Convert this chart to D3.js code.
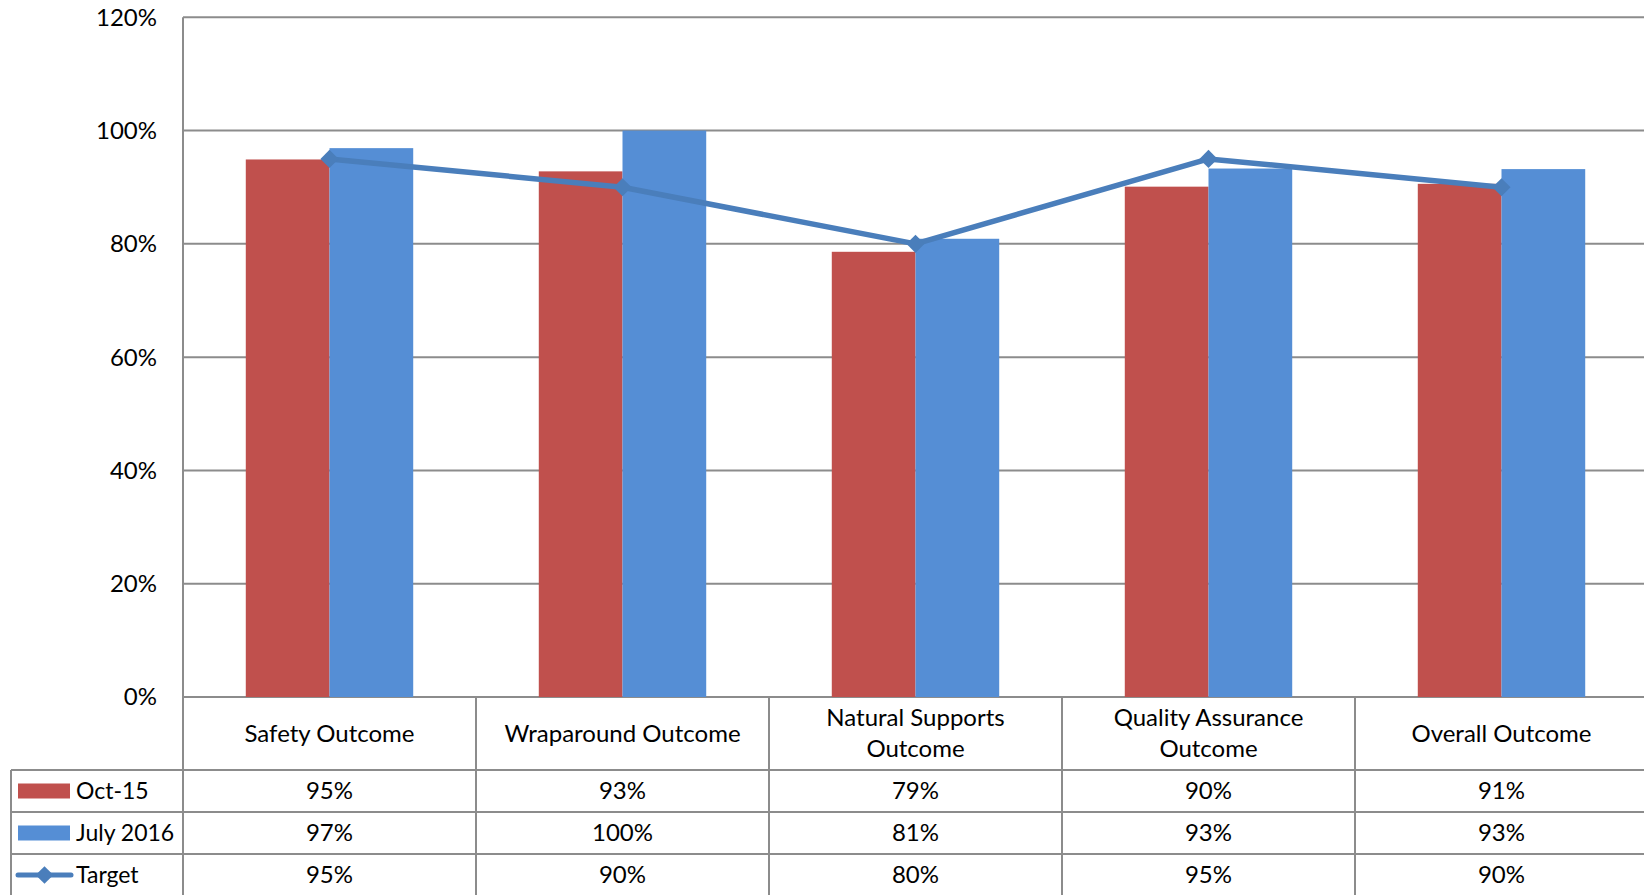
<!DOCTYPE html>
<html>
<head>
<meta charset="utf-8">
<script src="https://cdn.jsdelivr.net/npm/d3@7"></script>
<style>
  body { margin: 0; background: #fff; }
  text { font-family: Lato, "Open Sans", sans-serif; fill: #000; }
</style>
</head>
<body>
<svg id="chart" width="1644" height="895"></svg>
<script>
// chart data
const categories = [["Safety Outcome"], ["Wraparound Outcome"], ["Natural Supports", "Outcome"], ["Quality Assurance", "Outcome"], ["Overall Outcome"]];
const oct15 = [0.949, 0.928, 0.786, 0.901, 0.906];
const july2016 = [0.969, 1.0, 0.809, 0.933, 0.932];
const target = [0.95, 0.90, 0.80, 0.95, 0.90];
const yTicks = [0, 0.2, 0.4, 0.6, 0.8, 1.0, 1.2];

const seriesNames = ["Oct-15", "July 2016", "Target"];
const red = "#c0504d", blue = "#558ed5", lineBlue = "#4a7ebb", grid = "#8c8c8c";
const fontSize = "24px";

const svg = d3.select("#chart");
const plotLeft = 183, colW = 293, plotTop = 17.3, zero = 697;
const rowH = [73, 42, 42, 42];

const x = d3.scaleBand().domain(d3.range(categories.length)).range([plotLeft, plotLeft + colW * categories.length]).paddingInner(0).paddingOuter(0);
const y = d3.scaleLinear().domain([0, 1.2]).range([zero, plotTop]);
const fmt = d3.format(".0%");

// gridlines
svg.append("g").selectAll("line")
  .data(yTicks)
  .join("line")
  .attr("x1", plotLeft).attr("x2", 1644)
  .attr("y1", d => y(d)).attr("y2", d => y(d))
  .style("stroke", grid).style("stroke-width", 2);

// y labels
svg.append("g").selectAll("text")
  .data(yTicks)
  .join("text")
  .attr("x", 157).attr("y", d => y(d))
  .attr("dy", "0.35em")
  .attr("text-anchor", "end")
  .style("font-size", fontSize)
  .text(d => fmt(d));

// bars
const barW = colW / 3.5;
const bars = svg.append("g");
bars.selectAll("rect.oct")
  .data(oct15)
  .join("rect")
  .classed("oct", true)
  .attr("x", (d, i) => x(i) + colW / 2 - barW)
  .attr("width", barW)
  .attr("y", d => y(d))
  .attr("height", d => zero - y(d))
  .style("fill", red);
bars.selectAll("rect.july")
  .data(july2016)
  .join("rect")
  .classed("july", true)
  .attr("x", (d, i) => x(i) + colW / 2)
  .attr("width", barW)
  .attr("y", d => y(d))
  .attr("height", d => zero - y(d))
  .style("fill", blue);

// target line
const line = d3.line()
  .x((d, i) => x(i) + colW / 2)
  .y(d => y(d));
svg.append("path")
  .datum(target)
  .attr("d", line)
  .style("fill", "none")
  .style("stroke", lineBlue)
  .style("stroke-width", 5.5)
  .style("stroke-linejoin", "round");
svg.append("g").selectAll("path")
  .data(target)
  .join("path")
  .attr("transform", (d, i) => "translate(" + (x(i) + colW / 2) + "," + y(d) + ")")
  .attr("d", d3.symbol(d3.symbolDiamond2, 210))
  .style("fill", lineBlue);

// data table
const table = svg.append("g");
const rowTops = [zero];
rowH.forEach(h => rowTops.push(rowTops[rowTops.length - 1] + h));
const tableBottom = 895;
const lineStyle = sel => sel.style("stroke", grid).style("stroke-width", 2);

// horizontal lines
table.selectAll("line.h")
  .data(rowTops.slice(1, 4))
  .join("line")
  .classed("h", true)
  .attr("x1", 11).attr("x2", 1644)
  .attr("y1", d => d).attr("y2", d => d)
  .call(lineStyle);
// vertical lines
table.selectAll("line.v")
  .data(d3.range(categories.length + 1))
  .join("line")
  .classed("v", true)
  .attr("x1", d => plotLeft + d * colW).attr("x2", d => plotLeft + d * colW)
  .attr("y1", d => d == 0 ? plotTop : zero).attr("y2", tableBottom)
  .call(lineStyle);
table.append("line")
  .attr("x1", 11).attr("x2", 11)
  .attr("y1", rowTops[1]).attr("y2", tableBottom)
  .call(lineStyle);

// category header
const header = table.selectAll("text.cat")
  .data(categories)
  .join("text")
  .classed("cat", true)
  .attr("text-anchor", "middle")
  .style("font-size", fontSize);
header.each(function(lines, i) {
  const cx = x(i) + colW / 2;
  const cy = zero + rowH[0] / 2;
  d3.select(this).selectAll("tspan")
    .data(lines)
    .join("tspan")
    .attr("x", cx)
    .attr("y", (d, j) => cy + (j - (lines.length - 1) / 2) * 31)
    .attr("dy", "0.35em")
    .text(d => d);
});

// value rows
const rows = [oct15, july2016, target];
rows.forEach(function(vals, r) {
  const cy = (rowTops[r + 1] + rowTops[r + 2]) / 2;
  table.selectAll("text.r" + r)
    .data(vals)
    .join("text")
    .attr("class", "r" + r)
    .attr("x", (d, i) => x(i) + colW / 2)
    .attr("y", cy)
    .attr("dy", "0.35em")
    .attr("text-anchor", "middle")
    .style("font-size", fontSize)
    .text(d => fmt(d));

  // legend key
  const key = table.append("g");
  if (r < 2) {
    key.append("rect")
      .attr("x", 18).attr("y", cy - 7.5)
      .attr("width", 52).attr("height", 15)
      .style("fill", r == 0 ? red : blue);
  } else {
    key.append("line")
      .attr("x1", 18).attr("x2", 71)
      .attr("y1", cy).attr("y2", cy)
      .style("stroke", lineBlue).style("stroke-width", 5)
      .style("stroke-linecap", "round");
    key.append("path")
      .attr("transform", "translate(44.5," + cy + ")")
      .attr("d", d3.symbol(d3.symbolDiamond2, 200))
      .style("fill", lineBlue);
  }
  key.append("text")
    .attr("x", 76).attr("y", cy)
    .attr("dy", "0.35em")
    .style("font-size", "23px")
    .text(seriesNames[r]);
});
</script>
</body>
</html>
